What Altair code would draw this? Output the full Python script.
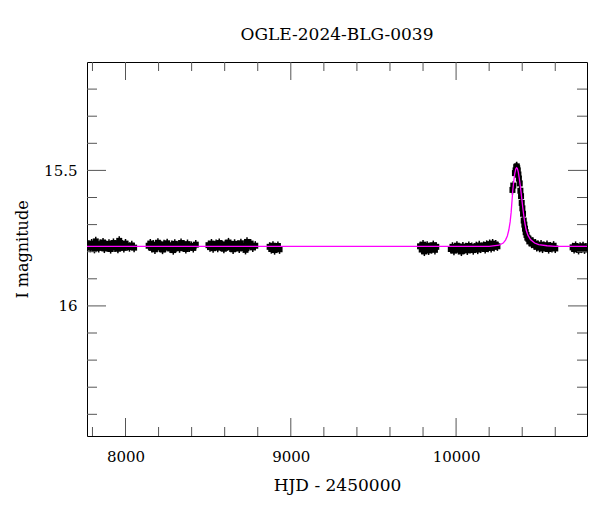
import altair as alt
import pandas as pd

TITLE = "OGLE-2024-BLG-0039"
X_TITLE = "HJD - 2450000"
Y_TITLE = "I magnitude"
X_DOMAIN = [7767, 10792]
Y_DOMAIN = [15.1, 16.48]
ERR = 0.017

x_major = [8000, 9000, 10000]
x_minor = [7800, 8200, 8400, 8600, 8800, 9200, 9400, 9600, 9800, 10200, 10400, 10600]
y_major = [15.5, 16.0]
y_minor = [15.2, 15.3, 15.4, 15.6, 15.7, 15.8, 15.9, 16.1, 16.2, 16.3, 16.4]

s1_t = [7778, 7787, 7795, 7803, 7812, 7820, 7829, 7838, 7846, 7855, 7864, 7872, 7881, 7890, 7900,
        7910, 7918, 7927, 7936, 7945, 7954, 7962, 7971, 7980, 7990, 8000, 8012, 8024, 8038, 8052]
s1_m = [15.775, 15.785, 15.770, 15.782, 15.789, 15.762, 15.779, 15.786, 15.772, 15.780, 15.766, 15.788,
        15.776, 15.783, 15.771, 15.790, 15.779, 15.768, 15.784, 15.775, 15.789, 15.760, 15.781, 15.774,
        15.786, 15.770, 15.779, 15.783, 15.777, 15.785]

s2_t = [8140, 8150, 8159, 8168, 8178, 8187, 8196, 8205, 8214, 8224, 8233, 8242, 8252, 8261, 8270,
        8280, 8289, 8298, 8308, 8317, 8327, 8336, 8346, 8355, 8365, 8375, 8386, 8398, 8410, 8425]
s2_m = [15.778, 15.770, 15.786, 15.774, 15.791, 15.781, 15.767, 15.784, 15.777, 15.792, 15.773, 15.785,
        15.769, 15.780, 15.788, 15.776, 15.794, 15.771, 15.783, 15.779, 15.787, 15.768, 15.782, 15.775,
        15.790, 15.772, 15.784, 15.779, 15.786, 15.774]

s3_t = [8502, 8511, 8520, 8530, 8539, 8548, 8558, 8567, 8576, 8586, 8595, 8604, 8614, 8623, 8632,
        8642, 8651, 8660, 8670, 8679, 8688, 8698, 8707, 8716, 8726, 8735, 8745, 8757, 8770, 8785]
s3_m = [15.776, 15.783, 15.770, 15.787, 15.779, 15.772, 15.785, 15.768, 15.781, 15.776, 15.789, 15.773,
        15.780, 15.766, 15.784, 15.777, 15.791, 15.771, 15.782, 15.775, 15.788, 15.769, 15.779, 15.786,
        15.793, 15.764, 15.781, 15.770, 15.784, 15.778]

s4_t = [8872, 8882, 8892, 8902, 8912, 8922, 8932]
s4_m = [15.782, 15.790, 15.778, 15.794, 15.785, 15.779, 15.791]

s5_t = [9782, 9792, 9800, 9808, 9816, 9825, 9834, 9843, 9852, 9862, 9872, 9880]
s5_m = [15.780, 15.792, 15.774, 15.799, 15.786, 15.778, 15.795, 15.783, 15.790, 15.776, 15.793, 15.782]

s6_t = [9968, 9978, 9987, 9996, 10005, 10014, 10023, 10032, 10041, 10050, 10059, 10068, 10077, 10086,
        10095, 10104, 10113, 10122, 10131, 10140, 10149, 10158, 10167, 10176, 10185, 10194, 10203,
        10212, 10221, 10230, 10240, 10250]
s6_m = [15.790, 15.782, 15.796, 15.785, 15.778, 15.793, 15.787, 15.799, 15.781, 15.791, 15.784, 15.795,
        15.779, 15.789, 15.783, 15.794, 15.786, 15.780, 15.792, 15.777, 15.788, 15.783, 15.779, 15.790,
        15.775, 15.785, 15.772, 15.786, 15.770, 15.782, 15.774, 15.780]

s7_t = [10341, 10346, 10356, 10360, 10364, 10367, 10370, 10373, 10377, 10380, 10385, 10389, 10393,
        10397, 10401, 10405, 10409, 10413, 10417, 10421, 10426, 10431, 10437, 10443, 10450, 10457,
        10464, 10472, 10480, 10488, 10496, 10505, 10514, 10523, 10532, 10541, 10550, 10560, 10570,
        10580, 10590, 10600]
s7_m = [15.572, 15.556, 15.510, 15.500, 15.488, 15.485, 15.492, 15.500, 15.515, 15.530, 15.548, 15.575,
        15.595, 15.620, 15.640, 15.660, 15.685, 15.700, 15.715, 15.728, 15.738, 15.748, 15.752, 15.762,
        15.758, 15.770, 15.765, 15.775, 15.770, 15.782, 15.776, 15.785, 15.774, 15.788, 15.779, 15.784,
        15.776, 15.790, 15.781, 15.786, 15.778, 15.788]

s8_t = [10705, 10714, 10723, 10732, 10741, 10750, 10759, 10768, 10777, 10786]
s8_m = [15.784, 15.790, 15.779, 15.787, 15.793, 15.782, 15.788, 15.780, 15.791, 15.785]

model_t = [7767, 10200, 10259, 10285, 10299, 10310, 10319, 10327, 10333, 10338, 10343, 10349, 10355,
           10361, 10366, 10371, 10376, 10382, 10389, 10396, 10403, 10410, 10417, 10424, 10435, 10450,
           10475, 10500, 10550, 10600, 10792]
model_m = [15.78, 15.78, 15.776, 15.768, 15.757, 15.742, 15.72, 15.69, 15.655, 15.615, 15.573, 15.54,
           15.512, 15.495, 15.49, 15.493, 15.505, 15.528, 15.56, 15.597, 15.635, 15.67, 15.697, 15.72,
           15.74, 15.755, 15.768, 15.774, 15.778, 15.78, 15.78]

W, H = 500, 374
FONT = "DejaVu Serif"

t_all = s1_t + s2_t + s3_t + s4_t + s5_t + s6_t + s7_t + s8_t
m_all = s1_m + s2_m + s3_m + s4_m + s5_m + s6_m + s7_m + s8_m
obs = pd.DataFrame({"t": t_all, "m": m_all})
obs["lo"] = obs["m"] - ERR
obs["hi"] = obs["m"] + ERR
model = pd.DataFrame({"t": model_t, "m": model_m})

xs = alt.Scale(domain=X_DOMAIN, nice=False, zero=False)
ys = alt.Scale(domain=Y_DOMAIN, nice=False, zero=False, reverse=True)

x_axis = alt.Axis(values=x_major, format="d", ticks=False, grid=False, domain=False,
                  labelPadding=13, title=X_TITLE, titlePadding=13,
                  labelFont=FONT, labelFontSize=15, titleFont=FONT, titleFontSize=17,
                  titleFontWeight="normal", labelColor="black", titleColor="black")
y_axis = alt.Axis(values=y_major, format="~g", ticks=False, grid=False, domain=False,
                  labelPadding=10, title=Y_TITLE, titlePadding=13,
                  labelFont=FONT, labelFontSize=15, titleFont=FONT, titleFontSize=16,
                  titleFontWeight="normal", labelColor="black", titleColor="black")

errs = alt.Chart(obs).mark_rule(color="black", strokeWidth=1.5, clip=True).encode(
    x=alt.X("t:Q", scale=xs, axis=x_axis),
    y=alt.Y("lo:Q", scale=ys, axis=y_axis),
    y2="hi:Q",
)
pts = alt.Chart(obs).mark_square(size=36, color="black", opacity=1, clip=True).encode(
    x=alt.X("t:Q", scale=xs, axis=x_axis),
    y=alt.Y("m:Q", scale=ys, axis=y_axis),
)
line = alt.Chart(model).mark_line(color="#ff00ff", strokeWidth=1.3, clip=True).encode(
    x=alt.X("t:Q", scale=xs, axis=x_axis),
    y=alt.Y("m:Q", scale=ys, axis=y_axis),
)

TICK_COLOR = "#555555"

def xticks(vals, length):
    df = pd.DataFrame({"v": vals})
    bottom = alt.Chart(df).mark_rule(color=TICK_COLOR, strokeWidth=1).encode(
        x=alt.X("v:Q", scale=xs, axis=x_axis), y=alt.value(H), y2=alt.value(H - length))
    top = alt.Chart(df).mark_rule(color=TICK_COLOR, strokeWidth=1).encode(
        x=alt.X("v:Q", scale=xs, axis=x_axis), y=alt.value(0), y2=alt.value(length))
    return [bottom, top]

def yticks(vals, length):
    df = pd.DataFrame({"v": vals})
    left = alt.Chart(df).mark_rule(color=TICK_COLOR, strokeWidth=1).encode(
        y=alt.Y("v:Q", scale=ys, axis=y_axis), x=alt.value(0), x2=alt.value(length))
    right = alt.Chart(df).mark_rule(color=TICK_COLOR, strokeWidth=1).encode(
        y=alt.Y("v:Q", scale=ys, axis=y_axis), x=alt.value(W), x2=alt.value(W - length))
    return [left, right]

layers = [errs, pts, line] + xticks(x_major, 18) + xticks(x_minor, 9) + yticks(y_major, 19) + yticks(y_minor, 10)

chart = alt.layer(*layers).properties(
    width=W, height=H,
    title=alt.TitleParams(TITLE, font=FONT, fontSize=17, fontWeight="normal", color="black",
                          anchor="middle", offset=18),
    autosize=alt.AutoSizeParams(type="none"),
    padding={"left": 79, "top": 54, "right": 3, "bottom": 60},
    background="white",
).configure_view(stroke="black", strokeWidth=1)

chart.save("out.html", embed_options={"renderer": "svg", "actions": False})
